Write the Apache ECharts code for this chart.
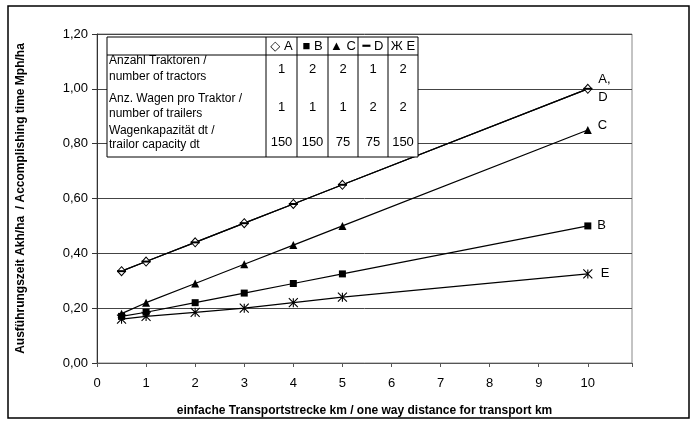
<!DOCTYPE html>
<html>
<head>
<meta charset="utf-8">
<script src="https://cdn.jsdelivr.net/npm/echarts@6/dist/echarts.min.js"></script>
<style>
  html, body { margin: 0; padding: 0; background: #fff; }
  #grafico { width: 694px; height: 423px; }
</style>
</head>
<body>
<div id="grafico"></div>
<script>
// Datos
const distancia = [0.5, 1, 2, 3, 4, 5, 10];
const serieA = [0.335, 0.37, 0.44, 0.51, 0.58, 0.65, 1.00];
const serieB = [0.17, 0.185, 0.22, 0.255, 0.29, 0.325, 0.50];
const serieC = [0.18, 0.22, 0.29, 0.36, 0.43, 0.50, 0.85];
const serieD = [0.335, 0.37, 0.44, 0.51, 0.58, 0.65, 1.00];
const serieE = [0.16, 0.17, 0.185, 0.20, 0.22, 0.24, 0.325];

// Tabla de variantes
const nombres = ['A', 'B', 'C', 'D', 'E'];
const simbolos = ['◇', '■', '▲', '━', 'Ж'];
const traktoren = [1, 2, 2, 1, 2];
const wagen = [1, 1, 1, 2, 2];
const kapazitaet = [150, 150, 75, 75, 150];
const filasTabla = [
    ['Anzahl Traktoren /', 'number of tractors'],
    ['Anz. Wagen pro Traktor /', 'number of trailers'],
    ['Wagenkapazität dt /', 'trailor capacity dt']
];

const fuente = '"Liberation Sans", Arial, "DejaVu Sans", sans-serif';
const negro = '#000';

// Puntos de una serie; la etiqueta va en el último punto
function puntos(valores, etiqueta) {
    return distancia.map((x, i) => {
        if (etiqueta && i === distancia.length - 1) {
            return {
                value: [x, valores[i]],
                label: Object.assign({
                    show: true, position: 'right', distance: 6,
                    color: negro, fontSize: 13, fontFamily: fuente
                }, etiqueta)
            };
        }
        return [x, valores[i]];
    });
}

function serie(nombre, valores, simbolo, tam, estilo, etiqueta) {
    return {
        name: nombre,
        type: 'line',
        data: puntos(valores, etiqueta),
        symbol: simbolo,
        symbolSize: tam,
        showAllSymbol: true,
        lineStyle: { color: negro, width: 1.2 },
        itemStyle: estilo,
        emphasis: { disabled: true },
        animation: false
    };
}

// Tabla dibujada con elementos gráficos
const cols = [107, 266, 297, 328, 358, 388, 418];
const yTop = 37, yHead = 55, yBottom = 157;
const centrosValores = [69, 107, 142];
const centrosTexto = [[61, 77], [99, 114], [131, 145]];
const valoresTabla = [traktoren, wagen, kapazitaet];

const elementos = [];
// marco exterior
elementos.push({
    type: 'rect', shape: { x: 8, y: 6, width: 681, height: 412 },
    style: { fill: 'none', stroke: negro, lineWidth: 1.5 }, z: 0, silent: true
});
elementos.push({
    type: 'rect', shape: { x: cols[0], y: yTop, width: cols[6] - cols[0], height: yBottom - yTop },
    style: { fill: '#fff', stroke: negro, lineWidth: 1 }, z: 10
});
elementos.push({
    type: 'line', shape: { x1: cols[0], y1: yHead, x2: cols[6], y2: yHead },
    style: { stroke: negro, lineWidth: 1 }, z: 11
});
for (let c = 1; c < 6; c++) {
    elementos.push({
        type: 'line', shape: { x1: cols[c], y1: yTop, x2: cols[c], y2: yBottom },
        style: { stroke: negro, lineWidth: 1 }, z: 11
    });
}
nombres.forEach((n, c) => {
    elementos.push({
        type: 'text', x: (cols[c + 1] + cols[c + 2]) / 2, y: (yTop + yHead) / 2, z: 12,
        style: { text: simbolos[c] + ' ' + n, fill: negro, font: '13px ' + fuente, align: 'center', verticalAlign: 'middle' }
    });
});
filasTabla.forEach((fila, r) => {
    fila.forEach((linea, k) => {
        elementos.push({
            type: 'text', x: cols[0] + 2, y: centrosTexto[r][k], z: 12,
            style: { text: linea, fill: negro, font: '12px ' + fuente, align: 'left', verticalAlign: 'middle' }
        });
    });
    valoresTabla[r].forEach((v, c) => {
        elementos.push({
            type: 'text', x: (cols[c + 1] + cols[c + 2]) / 2, y: centrosValores[r], z: 12,
            style: { text: String(v), fill: negro, font: '13px ' + fuente, align: 'center', verticalAlign: 'middle' }
        });
    });
});

const grafico = echarts.init(document.getElementById('grafico'));
grafico.setOption({
    backgroundColor: '#fff',
    animation: false,
    grid: { left: 97, right: 62, top: 34, bottom: 60, show: true, borderColor: '#888', borderWidth: 1 },
    xAxis: {
        type: 'value', min: 0, max: 10.9, interval: 1,
        name: 'einfache Transportstrecke km / one way distance for transport km',
        nameLocation: 'middle', nameGap: 42,
        nameTextStyle: { fontFamily: fuente, fontSize: 12, fontWeight: 'bold', color: negro },
        axisLine: { lineStyle: { color: '#555', width: 1 } },
        axisTick: { show: true, length: 4, lineStyle: { color: '#555' } },
        axisLabel: {
            margin: 14, fontFamily: fuente, fontSize: 13, color: negro,
            formatter: v => Number.isInteger(v) ? String(v) : ''
        },
        splitLine: { show: false }
    },
    yAxis: {
        type: 'value', min: 0, max: 1.2, interval: 0.2,
        name: 'Ausführungszeit Akh/ha  / Accomplishing time Mph/ha',
        nameLocation: 'middle', nameGap: 70,
        nameTextStyle: { fontFamily: fuente, fontSize: 12, fontWeight: 'bold', color: negro },
        axisLine: { show: true, lineStyle: { color: '#333', width: 1 } },
        axisTick: { show: true, length: 5, lineStyle: { color: '#333' } },
        axisLabel: {
            margin: 9, fontFamily: fuente, fontSize: 13, color: negro,
            formatter: v => v.toFixed(2).replace('.', ',')
        },
        splitLine: { show: true, lineStyle: { color: '#444', width: 1 } }
    },
    series: [
        serie('A', serieA, 'diamond', [8, 9], { color: '#fff', borderColor: negro, borderWidth: 1 },
            { formatter: 'A,\nD', lineHeight: 18 }),
        serie('B', serieB, 'rect', 7, { color: negro }, { formatter: 'B' }),
        serie('C', serieC, 'triangle', 8, { color: negro }, { formatter: 'C', offset: [0, -5] }),
        serie('E', serieE, 'path://M0,0L10,10M0,10L10,0M5,0L5,10', 9,
            { color: 'none', borderColor: negro, borderWidth: 1.1 }, { formatter: 'E' }),
        serie('D', serieD, 'rect', [9, 2], { color: negro })
    ],
    graphic: elementos
});
</script>
</body>
</html>
